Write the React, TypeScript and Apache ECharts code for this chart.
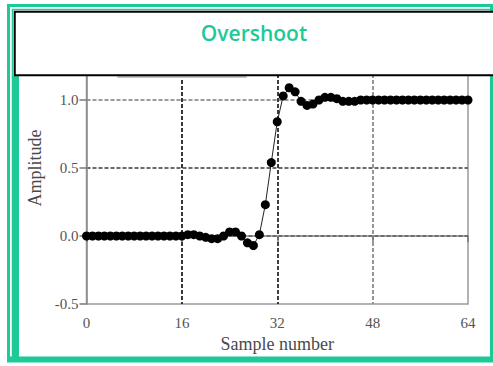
import React, { useEffect, useRef } from "react";
import * as echarts from "echarts";

// Sampled step response (sample index = position in list)
const amplitude: number[] = [
  0, 0, 0, 0, 0, 0, 0, 0, 0, 0,
  0, 0, 0, 0, 0, 0, 0, 0.01, 0.01, 0.0,
  -0.01, -0.02, -0.02, 0.0, 0.03, 0.03, 0.0, -0.05, -0.07, 0.01,
  0.23, 0.54, 0.84, 1.03, 1.09, 1.06, 0.99, 0.96, 0.97, 1.0,
  1.02, 1.02, 1.01, 0.99, 0.99, 0.99, 1.0, 1.0, 1.0, 1.0,
  1.0, 1.0, 1.0, 1.0, 1.0, 1.0, 1.0, 1.0, 1.0, 1.0,
  1.0, 1.0, 1.0, 1.0, 1.0,
];

const titleText = "Overshoot";
const xAxisName = "Sample number";
const yAxisName = "Amplitude";

const GREEN = "#1ec998";
const SERIF = "'Liberation Serif', 'Times New Roman', serif";

export default function App() {
  const ref = useRef<HTMLDivElement>(null);

  useEffect(() => {
    if (!ref.current) return;
    const chart = echarts.init(ref.current, undefined, { renderer: "svg" });
    const points = amplitude.map((v, i) => [i, v]);

    chart.setOption({
      animation: false,
      backgroundColor: "#ffffff",
      grid: {
        left: 86.5,
        right: 25,
        top: 32,
        bottom: 62,
        show: true,
        borderColor: "#9a9a9a",
        borderWidth: 1.5,
      },
      xAxis: {
        type: "value",
        min: 0,
        max: 64,
        interval: 16,
        name: xAxisName,
        nameLocation: "middle",
        nameGap: 28,
        nameTextStyle: { fontFamily: SERIF, fontSize: 18, color: "#4a4a4a" },
        axisLine: { show: true, lineStyle: { color: "#8a8a8a", width: 1.5 } },
        axisTick: { show: true, length: 6, lineStyle: { color: "#777", width: 1.5 } },
        axisLabel: { fontFamily: SERIF, fontSize: 15, color: "#555", margin: 11 },
        splitLine: {
          show: true,
          showMinLine: false,
          showMaxLine: false,
          lineStyle: { color: ["#222", "#2a2a2a", "#8c8c8c"], type: [4, 2], width: 1.8 },
        },
      },
      yAxis: {
        type: "value",
        min: -0.5,
        max: 1.5,
        interval: 0.5,
        name: yAxisName,
        nameLocation: "middle",
        nameGap: 38,
        nameTextStyle: { fontFamily: SERIF, fontSize: 18, color: "#4a4a4a" },
        axisLine: { show: true, lineStyle: { color: "#8a8a8a", width: 1.5 } },
        axisTick: { show: true, length: 7, lineStyle: { color: "#777", width: 1.5 } },
        axisLabel: {
          fontFamily: SERIF,
          fontSize: 15,
          color: "#555",
          margin: 8,
          formatter: (v: number) => v.toFixed(1),
        },
        splitLine: {
          show: true,
          showMinLine: false,
          showMaxLine: false,
          lineStyle: { color: ["#111", "#6a6a6a", "#9a9a9a"], type: [4, 2], width: 1.8 },
        },
      },
      series: [
        {
          type: "line",
          data: points,
          symbol: "circle",
          symbolSize: 9,
          showSymbol: true,
          itemStyle: { color: "#000", borderWidth: 0 },
          lineStyle: { color: "#222", width: 1 },
          z: 5,
        },
      ],
      graphic: [
        // outer green frame
        {
          type: "rect",
          z: 100,
          shape: { x: 8.5, y: 5.5, width: 483, height: 355 },
          style: { fill: "none", stroke: GREEN, lineWidth: 3 },
        },
        // thin inner green rule (top and left)
        {
          type: "polyline",
          z: 100,
          shape: { points: [[12.5, 358], [12.5, 9.5], [493, 9.5]] },
          style: { fill: "none", stroke: GREEN, lineWidth: 1.5 },
        },
        // left green band below the header
        {
          type: "rect",
          z: 100,
          shape: { x: 13, y: 76, width: 6, height: 282 },
          style: { fill: GREEN },
        },
        // bottom green band
        {
          type: "rect",
          z: 100,
          shape: { x: 7, y: 356.5, width: 486, height: 6 },
          style: { fill: GREEN },
        },
        // header box
        {
          type: "rect",
          z: 101,
          shape: { x: 14.75, y: 11.75, width: 490, height: 63.5 },
          style: { fill: "#ffffff", stroke: "#000", lineWidth: 2 },
        },
        {
          type: "line",
          z: 99,
          shape: { x1: 118, y1: 77, x2: 246, y2: 77 },
          style: { stroke: "#c4c4c4", lineWidth: 2, lineCap: "round" },
        },
        {
          type: "text",
          z: 102,
          x: 254,
          y: 33,
          style: {
            text: titleText,
            fill: GREEN,
            font: "600 21px 'Open Sans', 'DejaVu Sans', sans-serif",
            align: "center",
            verticalAlign: "middle",
          },
        },
      ],
    });

    return () => chart.dispose();
  }, []);

  return (
    <div
      ref={ref}
      style={{ position: "fixed", left: 0, top: 0, width: 493, height: 366 }}
    />
  );
}
